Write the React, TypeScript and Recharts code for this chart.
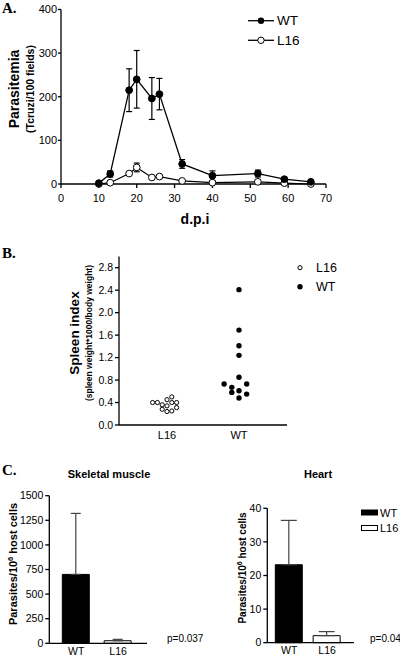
import {
  Bar,
  BarChart,
  Cell,
  ErrorBar,
  Line,
  LineChart,
  Scatter,
  ScatterChart,
  XAxis,
  YAxis,
} from "recharts";

// A. parasitemia time course
const dpi = [10, 13, 18, 20, 24, 26, 32, 40, 52, 59, 66];
const wtParasitemia = [2, 23, 215, 240, 196, 206, 46, 19, 24, 11, 5];
const wtSem = [0, 7, 49, 66, 48, 36, 10, 11, 8, 3, 0];
const l16Parasitemia = [0, 3, 24, 38, 15, 17, 7, 3, 5, 2, 0];
const l16Sem = [0, 0, 0, 10, 0, 0, 0, 0, 4, 0, 0];
const dpiTicks = [0, 10, 20, 30, 40, 50, 60, 70];
const parasitemiaTicks = [0, 100, 200, 300, 400];

// B. spleen index (x = group position + jitter)
const spleenGroups = ["L16", "WT"];
const spleenGroupPos = [1, 2.5];
const l16SpleenX = [0.7, 0.8, 0.9, 0.9, 1.0, 1.0, 1.0, 1.1, 1.1, 1.1, 1.2, 1.2];
const l16SpleenIndex = [0.4, 0.4, 0.36, 0.28, 0.45, 0.34, 0.24, 0.5, 0.4, 0.25, 0.4, 0.31];
const wtSpleenX = [2.5, 2.5, 2.5, 2.5, 2.5, 2.19, 2.35, 2.35, 2.5, 2.66, 2.66, 2.5];
const wtSpleenIndex = [2.41, 1.69, 1.41, 1.24, 0.85, 0.73, 0.67, 0.58, 0.61, 0.73, 0.55, 0.48];
const spleenTicks = [0, 0.4, 0.8, 1.2, 1.6, 2.0, 2.4, 2.8];

// C. tissue parasites
const tissueGroups = ["WT", "L16"];
const tissueColors = ["#000", "#fff"];
const muscleMean = [700, 26];
const muscleSem = [620, 14];
const heartMean = [23.2, 2.1];
const heartSem = [13.2, 1.2];
const muscleTicks = [0, 250, 500, 750, 1000, 1250, 1500];
const heartTicks = [0, 10, 20, 30, 40];

const FONT = "'Liberation Sans', Arial, Helvetica, sans-serif";
const SERIF = "'Liberation Serif', 'Times New Roman', serif";

const timeData = dpi.map((d, i) => ({
  dpi: d,
  wt: wtParasitemia[i],
  wtErr: wtSem[i],
  l16: l16Parasitemia[i],
  l16Err: l16Sem[i],
}));
const l16Spleen = l16SpleenX.map((x, i) => ({ x, y: l16SpleenIndex[i] }));
const wtSpleen = wtSpleenX.map((x, i) => ({ x, y: wtSpleenIndex[i] }));
const muscleData = tissueGroups.map((g, i) => ({ group: g, value: muscleMean[i], err: [0, muscleSem[i]] }));
const heartData = tissueGroups.map((g, i) => ({ group: g, value: heartMean[i], err: [0, heartSem[i]] }));

const axisStroke = { stroke: "#000", strokeWidth: 1.3 };
const tickStyle = (size: number) => ({ fontSize: size, fill: "#000", fontFamily: FONT });

function ParasitemiaChart() {
  return (
    <LineChart width={400} height={232} data={timeData} margin={{ top: 9.5, right: 74, bottom: 18, left: 0 }}>
      <XAxis
        dataKey="dpi"
        type="number"
        domain={[0, 70]}
        ticks={dpiTicks}
        axisLine={axisStroke}
        tickLine={axisStroke}
        tickSize={4}
        tickMargin={6}
        tick={tickStyle(11)}
        height={30}
        interval={0}
      />
      <YAxis
        type="number"
        domain={[0, 400]}
        ticks={parasitemiaTicks}
        axisLine={axisStroke}
        tickLine={axisStroke}
        tickSize={3}
        tickMargin={1}
        tick={tickStyle(11)}
        width={61}
        interval={0}
      />
      <Line
        dataKey="l16"
        stroke="#000"
        strokeWidth={1.2}
        dot={{ r: 3.4, fill: "#fff", stroke: "#000", strokeWidth: 1 }}
        activeDot={false}
        isAnimationActive={false}
      >
        <ErrorBar dataKey="l16Err" direction="y" width={3} stroke="#000" strokeWidth={1.2} />
      </Line>
      <Line
        dataKey="wt"
        stroke="#000"
        strokeWidth={1.3}
        dot={{ r: 3.4, fill: "#000", stroke: "#000", strokeWidth: 1 }}
        activeDot={false}
        isAnimationActive={false}
      >
        <ErrorBar dataKey="wtErr" direction="y" width={3} stroke="#000" strokeWidth={1.2} />
      </Line>
    </LineChart>
  );
}

function SpleenChart() {
  return (
    <ScatterChart width={400} height={215} margin={{ top: 16.5, right: 113, bottom: 10, left: 0 }}>
      <XAxis
        dataKey="x"
        type="number"
        domain={[0, 3.5]}
        ticks={spleenGroupPos}
        tickFormatter={(v) => spleenGroups[spleenGroupPos.indexOf(Number(v))] ?? ""}
        axisLine={axisStroke}
        tickLine={false}
        tickSize={0}
        tickMargin={6}
        tick={tickStyle(11)}
        height={20}
        interval={0}
      />
      <YAxis
        dataKey="y"
        type="number"
        domain={[0, 3]}
        ticks={spleenTicks}
        tickFormatter={(v) => Number(v).toFixed(1)}
        axisLine={axisStroke}
        tickLine={axisStroke}
        tickSize={4}
        tickMargin={2}
        tick={tickStyle(10.5)}
        width={119}
        interval={0}
      />
      <Scatter
        data={l16Spleen}
        isAnimationActive={false}
        shape={(p: any) => <circle cx={p.cx} cy={p.cy} r={2.1} fill="#fff" stroke="#000" strokeWidth={1} />}
      />
      <Scatter
        data={wtSpleen}
        isAnimationActive={false}
        shape={(p: any) => <circle cx={p.cx} cy={p.cy} r={2.7} fill="#000" />}
      />
    </ScatterChart>
  );
}

function TissueChart({
  data,
  ticks,
  width,
  yWidth,
  top,
  plotHeight,
  padding,
  capWidth,
}: {
  data: { group: string; value: number; err: number[] }[];
  ticks: number[];
  width: number;
  yWidth: number;
  top: number;
  plotHeight: number;
  padding: { left: number; right: number };
  capWidth: number;
}) {
  return (
    <BarChart width={width} height={177} data={data} margin={{ top, right: 0, bottom: 0, left: 0 }}>
      <XAxis
        dataKey="group"
        axisLine={axisStroke}
        tickLine={false}
        tickSize={0}
        tickMargin={4}
        tick={tickStyle(10.5)}
        height={177 - top - plotHeight}
        padding={padding}
        interval={0}
      />
      <YAxis
        type="number"
        domain={[0, ticks[ticks.length - 1]]}
        ticks={ticks}
        axisLine={axisStroke}
        tickLine={axisStroke}
        tickSize={4}
        tickMargin={2}
        tick={tickStyle(10.5)}
        width={yWidth}
        interval={0}
      />
      <Bar dataKey="value" barSize={27} stroke="#000" strokeWidth={1} isAnimationActive={false}>
        {data.map((d, i) => (
          <Cell key={d.group} fill={tissueColors[i]} />
        ))}
        <ErrorBar dataKey="err" direction="y" width={capWidth} stroke="#444" strokeWidth={1.2} />
      </Bar>
    </BarChart>
  );
}

function Labels() {
  const bold = { fontFamily: FONT, fontWeight: 700, fill: "#000" } as const;
  const plain = { fontFamily: FONT, fill: "#000" } as const;
  return (
    <svg width={400} height={657} style={{ position: "absolute", left: 0, top: 0, pointerEvents: "none" }}>
      {/* panel letters */}
      <text x={2} y={13} fontFamily={SERIF} fontWeight={700} fontSize={15}>A.</text>
      <text x={2} y={258} fontFamily={SERIF} fontWeight={700} fontSize={15}>B.</text>
      <text x={2} y={475} fontFamily={SERIF} fontWeight={700} fontSize={15}>C.</text>

      {/* A */}
      <text transform="translate(14,89) rotate(-90)" textAnchor="middle" dominantBaseline="central" fontSize={14} {...bold}>
        Parasitemia
      </text>
      <text transform="translate(30,89) rotate(-90)" textAnchor="middle" dominantBaseline="central" fontSize={10.5} {...bold}>
        (Tcruzi/100 fields)
      </text>
      <text x={195} y={224} textAnchor="middle" fontSize={14} {...bold}>d.p.i</text>
      <line x1={248} x2={274} y1={20.7} y2={20.7} stroke="#000" strokeWidth={1.3} />
      <circle cx={261} cy={20.7} r={3.2} fill="#000" />
      <text x={277} y={20.7} dominantBaseline="central" fontSize={13.5} {...plain}>WT</text>
      <line x1={248} x2={274} y1={40.3} y2={40.3} stroke="#000" strokeWidth={1.3} />
      <circle cx={261} cy={40.3} r={3.2} fill="#fff" stroke="#000" strokeWidth={1} />
      <text x={277} y={40.3} dominantBaseline="central" fontSize={13.5} {...plain}>L16</text>

      {/* B */}
      <text transform="translate(74,333) rotate(-90)" textAnchor="middle" dominantBaseline="central" fontSize={13.5} {...bold}>
        Spleen index
      </text>
      <text transform="translate(88.5,333) rotate(-90)" textAnchor="middle" dominantBaseline="central" fontSize={8.5} {...bold}>
        (spleen weight*1000/body weight)
      </text>
      <circle cx={300} cy={267.7} r={2.1} fill="#fff" stroke="#000" strokeWidth={1} />
      <text x={316} y={267.7} dominantBaseline="central" fontSize={12.5} {...plain}>L16</text>
      <circle cx={300} cy={286.7} r={2.7} fill="#000" />
      <text x={316} y={286.7} dominantBaseline="central" fontSize={12.5} {...plain}>WT</text>

      {/* C */}
      <text x={109} y={474} textAnchor="middle" dominantBaseline="central" fontSize={11} {...bold}>Skeletal muscle</text>
      <text x={318} y={474} textAnchor="middle" dominantBaseline="central" fontSize={11} {...bold}>Heart</text>
      <text transform="translate(16.5,564) rotate(-90)" textAnchor="middle" fontSize={11} {...bold}>
        Parasites/10<tspan dy={-4} fontSize={7.5}>6</tspan><tspan dy={4}> host cells</tspan>
      </text>
      <text transform="translate(245.5,568) rotate(-90)" textAnchor="middle" fontSize={10} {...bold}>
        Parasites/10<tspan dy={-4} fontSize={7}>6</tspan><tspan dy={4}> host cells</tspan>
      </text>
      <rect x={361} y={509.5} width={17} height={6} fill="#000" />
      <text x={380} y={512.5} dominantBaseline="central" fontSize={11} {...plain}>WT</text>
      <rect x={361.5} y={525.5} width={16} height={5} fill="#fff" stroke="#000" strokeWidth={1} />
      <text x={380} y={528} dominantBaseline="central" fontSize={11} {...plain}>L16</text>
      <text x={167} y={638} dominantBaseline="central" fontSize={10} {...plain}>p=0.037</text>
      <text x={370} y={638} dominantBaseline="central" fontSize={10} {...plain}>p=0.04</text>
    </svg>
  );
}

export default function App() {
  return (
    <div style={{ position: "absolute", left: 0, top: 0, width: 400, height: 657, background: "#fff", fontFamily: FONT, overflow: "hidden" }}>
      <div style={{ position: "absolute", left: 0, top: 0 }}>
        <ParasitemiaChart />
      </div>
      <div style={{ position: "absolute", left: 0, top: 240 }}>
        <SpleenChart />
      </div>
      <div style={{ position: "absolute", left: 0, top: 480 }}>
        <TissueChart data={muscleData} ticks={muscleTicks} width={147} yWidth={49.3} top={15.7} plotHeight={147.6} padding={{ left: 6, right: 8 }} capWidth={5} />
      </div>
      <div style={{ position: "absolute", left: 220, top: 480 }}>
        <TissueChart data={heartData} ticks={heartTicks} width={134} yWidth={47.3} top={28.3} plotHeight={134.4} padding={{ left: 3, right: 8 }} capWidth={8} />
      </div>
      <Labels />
    </div>
  );
}
